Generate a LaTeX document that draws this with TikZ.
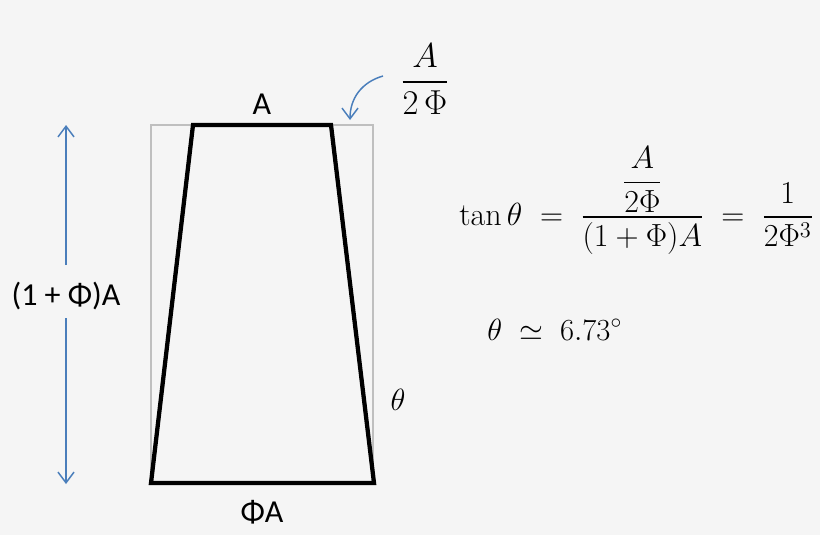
\documentclass[tikz,border=0pt]{standalone}
\usepackage{fix-cm}
\usepackage{amsmath}
\usepackage{fontspec}
\newfontfamily\labelfont{Carlito}
\usetikzlibrary{arrows.meta}
\definecolor{bgc}{HTML}{F5F5F5}
\definecolor{arrowblue}{HTML}{4A7EBB}
\definecolor{boxgray}{HTML}{BFBFBF}
\tikzset{
  sanslabel/.style={font=\labelfont\fontsize{24}{28}\selectfont, inner sep=0pt},
  mathlabel/.style={font=\fontsize{23}{27}\selectfont, inner sep=0pt},
  bluearrow/.style={draw=arrowblue, line width=1.1pt, -{Straight Barb[length=8pt,width=12pt]}},
  outline/.style={draw=black, line width=3.2pt, line join=miter},
}
\begin{document}
\begin{tikzpicture}[x=0.75pt,y=-0.75pt]
\fill[bgc] (0,0) rectangle (820,535);
\useasboundingbox (0,0) rectangle (820,535);
% gray bounding rectangle
\draw[boxgray, line width=1pt] (151,125) rectangle (373,483);
% trapezoid
\coordinate (tl) at (193,125);
\coordinate (tr) at (331,125);
\coordinate (br) at (374,483);
\coordinate (bl) at (151,483);
\draw[outline] (tl) -- (tr) -- (br) -- (bl) -- cycle;
% labels
\node[sanslabel] (topA) at (262,104) {A};
\node[sanslabel] (botA) at (262,512) {ΦA};
\node[sanslabel] (height) at (66,296) {(1 + Φ)A};
% height arrow
\coordinate (hTop) at (66,125);
\coordinate (hBot) at (66,484);
\coordinate (hGapTop) at (66,265);
\coordinate (hGapBot) at (66,318);
\draw[bluearrow] (hGapTop) -- (hTop);
\draw[bluearrow] (hGapBot) -- (hBot);
% top fraction
\node[font=\fontsize{26}{30}\selectfont, inner sep=0pt] (frac) at (425,79) {$\dfrac{A}{2\,\Phi}$};
\coordinate (cStart) at (383,76);
\coordinate (cEnd) at (350,120);
\draw[bluearrow] (cStart) .. controls (362,82) and (350,98) .. (cEnd);
% equations
\node[font=\fontsize{24}{28}\selectfont, inner sep=0pt, anchor=base west] (eq) at (459,225) {$\displaystyle \tan\theta \;=\; \frac{\dfrac{A}{2\Phi}}{(1+\Phi)A} \;=\; \frac{1}{2\Phi^3}$};
\node[mathlabel, anchor=base west] (approx) at (487,340) {$\theta \;\simeq\; 6.73^\circ$};
\node[mathlabel] (theta) at (398,400) {$\theta$};
\end{tikzpicture}
\end{document}
